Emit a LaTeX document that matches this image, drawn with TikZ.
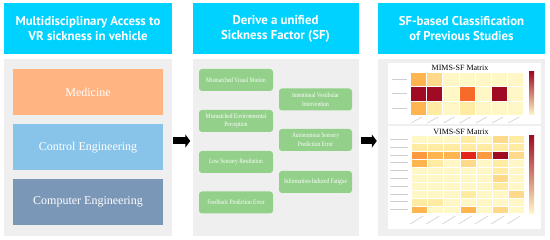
\documentclass[tikz,border=0pt]{standalone}
\usepackage{fontspec}
\setmainfont{Liberation Serif}
\newfontfamily\headfont{PT Sans}
\newfontfamily\narrowserif[FakeStretch=0.8]{Liberation Serif}
\usetikzlibrary{arrows.meta}
\definecolor{headcyan}{HTML}{00D2FF}
\definecolor{panelgray}{HTML}{EFEFEF}
\definecolor{medorange}{HTML}{FFB482}
\definecolor{ctrlblue}{HTML}{88C4EA}
\definecolor{compblue}{HTML}{7B97B7}
\definecolor{factorgreen}{HTML}{93D08A}
\definecolor{labelgray}{HTML}{CFCFCF}
\definecolor{heat0}{HTML}{FFF8C6}
\definecolor{heat1}{HTML}{FFEBA2}
\definecolor{heat2}{HTML}{FED98A}
\definecolor{heat3}{HTML}{FEB550}
\definecolor{heat4}{HTML}{FD9A40}
\definecolor{heat5}{HTML}{F86A2A}
\definecolor{heat6}{HTML}{E3261C}
\definecolor{heat7}{HTML}{C00D22}
\definecolor{heat8}{HTML}{A00A22}
\begin{document}
\begin{tikzpicture}[x=1pt,y=-1pt,
    header/.style={fill=headcyan, minimum width=168pt, minimum height=51pt, inner sep=0pt,
      text=white, align=center, font=\headfont\bfseries\fontsize{12.8}{15}\selectfont},
    panel/.style={fill=panelgray, minimum height=177pt, inner sep=0pt},
    field/.style={minimum width=150pt, minimum height=46pt, inner sep=0pt, text=white,
      font=\fontsize{12}{14}\selectfont},
    factor/.style={fill=factorgreen, rounded corners=3pt, minimum width=74pt, minimum height=22pt,
      inner sep=1pt, text=white, align=center, font=\narrowserif\fontsize{6.8}{8.5}\selectfont},
    plot/.style={fill=white, minimum width=153pt, inner sep=0pt},
    maptitle/.style={font=\fontsize{8}{9}\selectfont, inner sep=0pt},
    cell/.style={draw=white, line width=0.1pt},
    ticklabel/.style={draw=labelgray, line width=0.6pt},
    bigarrow/.style={line width=7pt, -{Triangle[length=5pt,width=13pt]}}]
  \useasboundingbox (0,0) rectangle (550,240);

  % first column
  \node[header] (accessHead) at (88,28.5) {Multidisciplinary Access to\\VR sickness in vehicle};
  \node[panel, minimum width=168pt] (accessPanel) at (88,147.5) {};
  \node[field, fill=medorange] (medicine) at (88,92) {Medicine};
  \node[field, fill=ctrlblue] (control) at (88,147.5) {Control Engineering};
  \node[field, fill=compblue] (computer) at (88,202) {Computer Engineering};

  % second column
  \node[header, minimum width=166pt] (factorHead) at (275.5,28.5) {Derive a unified\\Sickness Factor (SF)};
  \node[panel, minimum width=166pt] (factorPanel) at (275.5,147.5) {};
  \node[factor] (visualMotion) at (236,80) {Mismatched Visual Motion};
  \node[factor] (envPerception) at (236,121) {Mismatched Environmental\\Perception};
  \node[factor] (lowResolution) at (236,162) {Low Sensory Resolution};
  \node[factor] (feedbackError) at (236,202.5) {Feedback Prediction Error};
  \node[factor, minimum width=73pt] (vestibular) at (315.5,99.5) {Intentional Vestibular\\Intervention};
  \node[factor, minimum width=73pt] (autonomousError) at (315.5,140) {Autonomous Sensory\\Prediction Error};
  \node[factor, minimum width=73pt] (fatigue) at (315.5,182) {Information-Induced Fatigue};

  % third column
  \node[header, minimum width=167pt] (studyHead) at (461.5,28.5) {SF-based Classification\\of Previous Studies};
  \node[panel, minimum width=167pt] (studyPanel) at (461.5,147.5) {};
  \node[plot, minimum height=61pt] (mimsPlot) at (464.5,93.5) {};
  \node[plot, minimum height=103pt] (vimsPlot) at (464.5,177.5) {};
  \node[maptitle] (mimsTitle) at (460,68) {MIMS-SF Matrix};
  \node[maptitle] (vimsTitle) at (461,131.5) {VIMS-SF Matrix};

  % MIMS heat map
  \foreach \vals [count=\r] in {{3,2,0,0,0,0,0},{8,8,0,5,0,8,0},{3,1,0,1,0,0,0}} {
    \foreach \v [count=\c] in \vals
      \fill[fill=heat\v, cell] ({410+(\c-1)*16.2},{72+(\r-1)*14.4}) rectangle ++(16.2,14.4);
    \draw[ticklabel] (392,{72+(\r-0.5)*14.4}) -- (407,{72+(\r-0.5)*14.4});
  }
  \foreach \c in {1,...,7}
    \draw[ticklabel] ({410+(\c-0.5)*16.2+4},117) -- ++(-11,6);
  \shade[top color=heat8, middle color=heat4, bottom color=heat0] (529,72) rectangle (534,115);

  % VIMS heat map
  \foreach \vals [count=\r] in {{0,0,0,1,0,2,1},{1,1,1,1,1,1,1},{4,3,3,6,4,8,2},{3,1,0,2,0,1,0},
      {0,0,0,0,0,1,0},{0,0,0,0,0,2,0},{0,0,0,0,0,1,0},{0,0,0,1,0,0,2},{1,1,0,0,0,0,0},{3,0,0,3,0,2,0}} {
    \foreach \v [count=\c] in \vals
      \fill[fill=heat\v, cell] ({411+(\c-1)*16.2},{135.5+(\r-1)*7.8}) rectangle ++(16.2,7.8);
    \draw[ticklabel] (390,{135.5+(\r-0.5)*7.8}) -- (408,{135.5+(\r-0.5)*7.8});
  }
  \foreach \c in {1,...,7}
    \draw[ticklabel] ({411+(\c-0.5)*16.2+4},216) -- ++(-13,8);
  \shade[top color=heat8, middle color=heat4, bottom color=heat0] (529,135.5) rectangle (534,213.5);

  % arrows between the columns
  \draw[bigarrow] ([xshift=1pt,yshift=6.5pt]accessPanel.east) -- ([xshift=-2pt,yshift=6.5pt]factorPanel.west);
  \draw[bigarrow] ([xshift=2.5pt,yshift=6.5pt]factorPanel.east) -- ([xshift=-1pt,yshift=6.5pt]studyPanel.west);
\end{tikzpicture}
\end{document}
